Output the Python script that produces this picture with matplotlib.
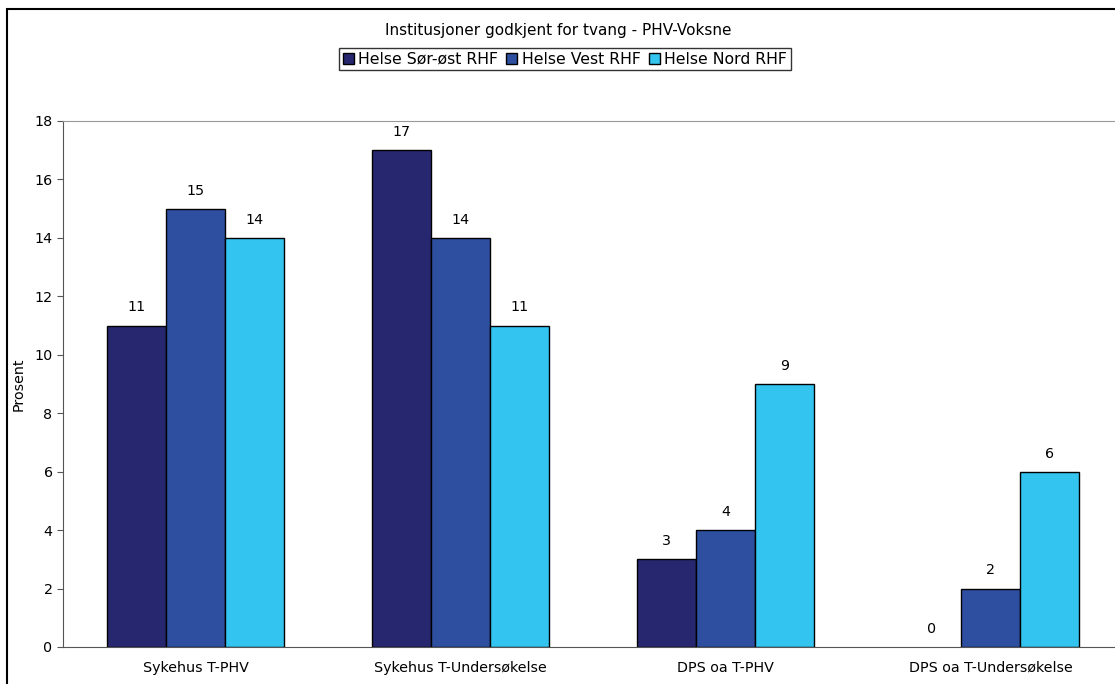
import matplotlib
matplotlib.use('Agg')
import matplotlib.pyplot as plt
import matplotlib.patches as patches
import numpy as np

matplotlib.rcParams.update({'font.size': 10.3, 'font.family': 'DejaVu Sans'})

categories = ['Sykehus T-PHV', 'Sykehus T-Undersøkelse', 'DPS oa T-PHV', 'DPS oa T-Undersøkelse']
series_names = ['Helse Sør-øst RHF', 'Helse Vest RHF', 'Helse Nord RHF']
sor_ost = [11, 17, 3, 0]
vest = [15, 14, 4, 2]
nord = [14, 11, 9, 6]
colors = ['#27276F', '#2E4FA0', '#33C4EF']
yticks = [0, 2, 4, 6, 8, 10, 12, 14, 16, 18]

W, H = 1115, 684
fig = plt.figure(figsize=(W / 100, H / 100), dpi=100)

# outer chart border (right/bottom fall outside the image like in the reference)
fig.patches.append(patches.Rectangle((7 / W, -0.1), 1.2, 1 - 9 / H + 0.1,
                                     transform=fig.transFigure, fill=False,
                                     edgecolor='black', linewidth=1.5))

ax = fig.add_axes([63 / W, 1 - 647 / H, 1060 / W, 526 / H])
x = np.arange(len(categories))
width = 0.223
for i, (vals, name) in enumerate(zip([sor_ost, vest, nord], series_names)):
    pos = x + (i - 1) * width
    lw = [1 if v > 0 else 0 for v in vals]
    ax.bar(pos, vals, width, color=colors[i], edgecolor='black',
           linewidth=lw, label=name)
    for xp, v in zip(pos, vals):
        ax.annotate(str(v), (xp, v), xytext=(0, 8), textcoords='offset points',
                    ha='center', va='bottom', fontsize=10.3)

ax.set_xlim(-0.5, 3.5)
ax.set_ylim(0, 18)
ax.set_yticks(yticks)
ax.set_xticks(x)
ax.set_xticklabels(categories)
ax.tick_params(axis='x', length=0, pad=10)
ax.tick_params(axis='y', length=4, direction='out', color='#555555')
ax.spines['top'].set_color('#999999')
ax.spines['left'].set_color('#555555')
ax.spines['bottom'].set_color('#555555')
ax.spines['right'].set_visible(False)
ax.set_ylabel('Prosent', labelpad=6)

fig.text(558 / W, 1 - 31 / H, 'Institusjoner godkjent for tvang - PHV-Voksne',
         ha='center', va='center', fontsize=11)
leg = fig.legend(loc='center', bbox_to_anchor=(565 / W, 1 - 59 / H), ncol=3,
                 frameon=True, fancybox=False, edgecolor='black',
                 handlelength=0.7, handleheight=0.7, handletextpad=0.3,
                 columnspacing=0.5, borderpad=0.25, fontsize=11.3)
leg.get_frame().set_linewidth(1)

fig.savefig('out.png', dpi=100)
